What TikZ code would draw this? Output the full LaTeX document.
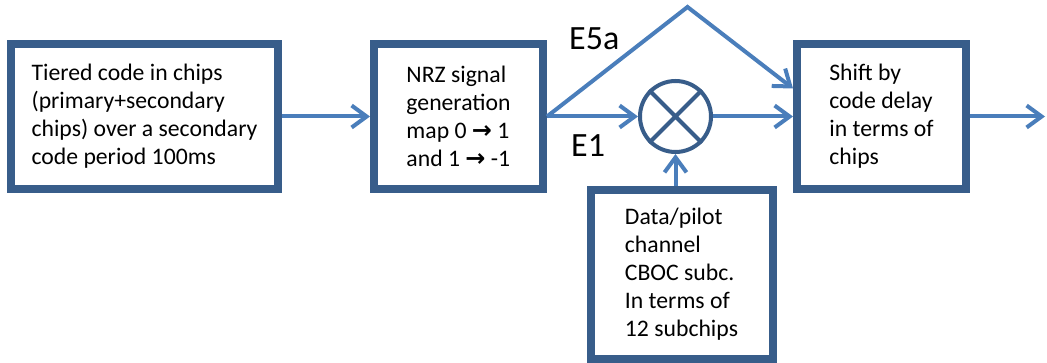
\documentclass[tikz,border=0pt]{standalone}
\usepackage{fontspec}
\setmainfont{Carlito}
\newfontfamily\arrowfont{DejaVu Sans}
\usetikzlibrary{positioning,arrows.meta}
\definecolor{boxblue}{HTML}{385D8A}
\definecolor{lineblue}{HTML}{4A7EBB}
\newcommand{\maparrow}{{\arrowfont\bfseries\fontsize{24}{28}\selectfont →}}
\tikzstyle{block}=[rectangle,line width=8pt,draw=boxblue,fill=white,align=left,
font=\fontsize{23.7}{28}\selectfont]
\tikzstyle{mixer}=[circle,line width=4pt,draw=boxblue,fill=white,minimum size=71pt,inner sep=0pt]
\tikzstyle{flow}=[line width=4pt,color=lineblue]
\tikzstyle{band}=[inner sep=0pt,font=\fontsize{34}{40}\selectfont]

\begin{document}
\begin{tikzpicture}[x=1pt,y=1pt,>={Straight Barb[length=15pt,width=22pt]}]
            \useasboundingbox (0,0) rectangle (1047,-363);

            % CODE CHAIN

            \node[block,minimum width=267pt,minimum height=145pt] (tiered) at (144.5,-116.5)
                {Tiered code in chips\\(primary+secondary\\chips) over a secondary\\code period 100ms};
            \node[block,right=88pt of tiered,minimum width=169pt,minimum height=145pt] (nrz)
                {NRZ signal\\generation\\map 0 \maparrow{} 1\\and 1 \maparrow{} -1};
            \node[mixer,right=91pt of nrz] (mix) {};
            \node[block,right=80pt of mix,minimum width=169pt,minimum height=145pt] (shift)
                {Shift by\\code delay\\in terms of\\chips};
            \node[block,below=32pt of mix,xshift=6pt,minimum width=182pt,minimum height=169pt] (subc)
                {Data/pilot\\channel\\CBOC subc.\\In terms of\\12 subchips};

            \draw[boxblue,line width=4pt] (mix.north west) -- (mix.south east)
                (mix.north east) -- (mix.south west);

            \coordinate[above=72pt of mix.north,xshift=12pt] (apex);
            \coordinate[right=75pt of shift] (out);

            \node[band,anchor=base west] (e5a) at (569,-50) {E5a};
            \node[band,anchor=base west] (e1) at (571,-157) {E1};

            % Connections

            \path[->,flow] (tiered) edge node {} (nrz);
            \path[->,flow] (nrz) edge node {} (mix);
            \path[->,flow] (mix) edge node {} (shift);
            \path[->,flow] (shift) edge node {} (out);
            \draw[->,flow] (nrz.east) -- (apex) -- ([yshift=28pt]shift.west);
            \draw[->,flow] (subc.north -| mix) -- (mix.south);

        \end{tikzpicture}
\end{document}
